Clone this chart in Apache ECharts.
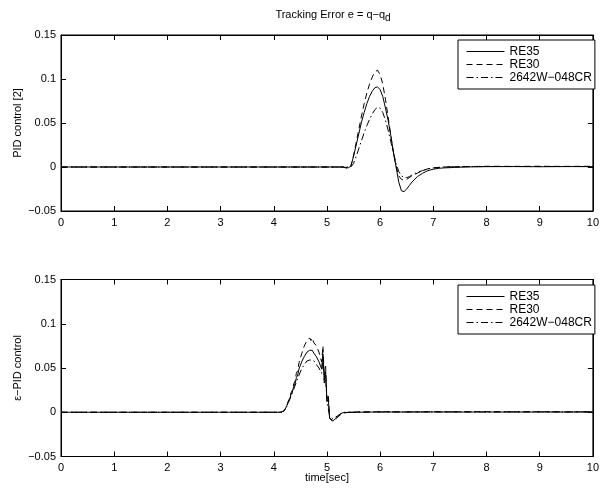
<!DOCTYPE html>
<html>
<head>
<meta charset="utf-8">
<script src="https://cdn.jsdelivr.net/npm/echarts@6/dist/echarts.min.js"></script>
<style>html,body{margin:0;padding:0;background:#fff}#c{width:602px;height:489px}</style>
</head>
<body>
<div id="c"></div>
<script>
// ---------- data ----------
var seriesNames = ['RE35', 'RE30', '2642W\u2212048CR'];
var xTicks = [0,1,2,3,4,5,6,7,8,9,10];
var yTicks = [-0.05, 0, 0.05, 0.1, 0.15];

// Top plot (PID control [2])
var topTime = [0, 2, 4, 5, 5.3, 5.4,
  5.45, 5.5, 5.55, 5.6, 5.65, 5.7, 5.75, 5.8, 5.85, 5.9, 5.95, 6.0,
  6.05, 6.1, 6.15, 6.2, 6.25, 6.3, 6.35, 6.4, 6.45, 6.5, 6.55, 6.6,
  6.7, 6.8, 6.9, 7.0, 7.1, 7.2, 7.4, 7.6, 7.8, 8.0, 8.5, 9.0, 9.5, 10];
var topRE35 = [0, 0, 0, 0, 0, -0.001,
  0.001, 0.012, 0.025, 0.038, 0.051, 0.062, 0.072, 0.080, 0.086, 0.090, 0.091, 0.088,
  0.080, 0.067, 0.053, 0.036, 0.017, 0.000, -0.017, -0.027, -0.028, -0.025, -0.021, -0.017,
  -0.011, -0.007, -0.004, -0.0025, -0.0015, -0.001, -0.0005, 0, 0.0002, 0.0004, 0.0005, 0.0003, 0.0005, 0.0004];
var topRE30 = [0, 0, 0, 0, 0, -0.002,
  0.001, 0.013, 0.028, 0.043, 0.058, 0.072, 0.084, 0.094, 0.102, 0.108, 0.110, 0.105,
  0.094, 0.077, 0.057, 0.036, 0.016, 0.001, -0.010, -0.014, -0.015, -0.014, -0.012, -0.010,
  -0.007, -0.004, -0.002, -0.001, -0.0005, 0, 0.0003, 0.0005, 0.0006, 0.0008, 0.0007, 0.0008, 0.0007, 0.0008];
var top2642 = [0, 0, 0, 0, 0, 0,
  0, 0.004, 0.012, 0.021, 0.030, 0.039, 0.047, 0.054, 0.060, 0.065, 0.068, 0.067,
  0.062, 0.053, 0.042, 0.029, 0.016, 0.004, -0.005, -0.010, -0.012, -0.012, -0.011, -0.009,
  -0.006, -0.004, -0.002, -0.001, -0.0005, 0, 0.0003, 0.0004, 0.0005, 0.0006, 0.0005, 0.0006, 0.0005, 0.0006];

// Bottom plot (epsilon-PID control)
var botTime = [0, 2, 4,
  4.1, 4.125, 4.15, 4.175, 4.2, 4.225, 4.25, 4.275, 4.3, 4.325, 4.35, 4.375, 4.4, 4.425, 4.45, 4.475,
  4.5, 4.525, 4.55, 4.575, 4.6, 4.625, 4.65, 4.675, 4.7, 4.725, 4.75, 4.775, 4.8, 4.825, 4.85, 4.875,
  4.9, 4.925, 4.95, 4.975, 5.0, 5.025, 5.05, 5.075, 5.1, 5.125, 5.15, 5.175, 5.2, 5.225, 5.25, 5.275, 5.3,
  5.4, 5.6, 5.8, 6.0, 6.5, 7.0, 7.5, 8.0, 8.5, 9.0, 9.5, 10];
var botRE35 = [0, 0, 0,
  0, 0, 0.0003, 0.001, 0.002, 0.005, 0.008, 0.012, 0.015, 0.020, 0.023, 0.029, 0.032, 0.039, 0.042, 0.049,
  0.051, 0.057, 0.058, 0.063, 0.064, 0.068, 0.067, 0.070, 0.068, 0.070, 0.067, 0.068, 0.063, 0.064, 0.057, 0.058,
  0.049, 0.066, 0.036, 0.046, 0.012, 0.015, -0.007, -0.005, -0.010, -0.009, -0.008, -0.007, -0.005, -0.004, -0.002, -0.001, -0.0005,
  -0.0003, 0, 0.0002, 0.0003, 0.0002, 0.0003, 0.0002, 0.0003, 0.0002, 0.0003, 0.0002, 0.0003];
var botRE30 = [0, 0, 0,
  0, 0, 0.0003, 0.001, 0.002, 0.005, 0.008, 0.013, 0.016, 0.022, 0.025, 0.032, 0.035, 0.044, 0.047, 0.056,
  0.058, 0.066, 0.067, 0.075, 0.075, 0.081, 0.079, 0.084, 0.081, 0.084, 0.079, 0.081, 0.075, 0.076, 0.068, 0.068,
  0.057, 0.075, 0.040, 0.052, 0.015, 0.020, -0.006, -0.004, -0.009, -0.011, -0.009, -0.009, -0.006, -0.005, -0.003, -0.002, -0.001,
  0, 0.0005, 0.0003, 0.0006, 0.0004, 0.0006, 0.0005, 0.0007, 0.0005, 0.0006, 0.0004, 0.0006];
var bot2642 = [0, 0, 0,
  0, 0, 0.0003, 0.001, 0.002, 0.004, 0.007, 0.011, 0.013, 0.018, 0.020, 0.026, 0.028, 0.034, 0.036, 0.042,
  0.044, 0.049, 0.050, 0.054, 0.055, 0.058, 0.057, 0.059, 0.058, 0.059, 0.057, 0.057, 0.054, 0.054, 0.050, 0.049,
  0.044, 0.060, 0.033, 0.040, 0.012, 0.013, -0.004, -0.003, -0.007, -0.007, -0.006, -0.005, -0.004, -0.003, -0.002, -0.001, 0,
  0, 0.0002, 0.0004, 0.0003, 0.0005, 0.0004, 0.0005, 0.0003, 0.0005, 0.0004, 0.0005, 0.0004];

// ---------- chart ----------
var FONT = '"Liberation Sans", Arial, Helvetica, sans-serif';
function zip(t, v) { return t.map(function (x, i) { return [x, v[i]]; }); }
function yFmt(v) {
  var s = String(Math.round(v * 100) / 100);
  return s.replace('-', '\u2212');
}
var dashTypes = ['solid', [6, 4], [7, 3, 1.5, 3]];

function xAx(gi, pos, showLabels, name) {
  return {
    type: 'value', gridIndex: gi, position: pos, min: 0, max: 10, interval: 1,
    axisLine: { show: true, onZero: false, lineStyle: { color: '#000', width: 1 } },
    axisTick: { show: true, inside: true, length: 5, lineStyle: { color: '#000' } },
    axisLabel: { show: showLabels, color: '#000', fontFamily: FONT, fontSize: 11, margin: 6 },
    splitLine: { show: false },
    name: name || '', nameLocation: 'middle', nameGap: 16, nameMoveOverlap: false,
    nameTextStyle: { color: '#000', fontFamily: FONT, fontSize: 11 }
  };
}
function yAx(gi, pos, showLabels, name) {
  return {
    type: 'value', gridIndex: gi, position: pos, min: -0.05, max: 0.15, interval: 0.05,
    axisLine: { show: true, onZero: false, lineStyle: { color: '#000', width: 1 } },
    axisTick: { show: true, inside: true, length: 5, lineStyle: { color: '#000' } },
    axisLabel: { show: showLabels, color: '#000', fontFamily: FONT, fontSize: 11, margin: 5, formatter: yFmt },
    splitLine: { show: false },
    name: name || '', nameLocation: 'middle', nameGap: 38, nameRotate: 90, nameMoveOverlap: false,
    nameTextStyle: { color: '#000', fontFamily: FONT, fontSize: 11 }
  };
}
function mkSeries(name, data, k, xi, yi) {
  return {
    name: name, type: 'line', xAxisIndex: xi, yAxisIndex: yi, data: data,
    showSymbol: false, symbol: 'none', animation: false,
    lineStyle: { color: '#000', width: 1, type: dashTypes[k] },
    itemStyle: { color: '#000' }
  };
}
function mkLegend(top) {
  return {
    data: seriesNames, orient: 'vertical', left: 458, top: top,
    itemWidth: 38, itemHeight: 9, itemGap: 0, padding: [5, 3, 5, 8],
    backgroundColor: '#fff', borderColor: '#000', borderWidth: 1,
    textStyle: { color: '#000', fontFamily: FONT, fontSize: 12, lineHeight: 13 },
    itemStyle: { opacity: 0 },
    lineStyle: { width: 1 },
    selectedMode: false
  };
}

var chart = echarts.init(document.getElementById('c'), null, { renderer: 'canvas' });
var topData = [topRE35, topRE30, top2642];
var botData = [botRE35, botRE30, bot2642];
var series = [];
seriesNames.forEach(function (n, k) { series.push(mkSeries(n, zip(topTime, topData[k]), k, 0, 0)); });
seriesNames.forEach(function (n, k) { series.push(mkSeries(n, zip(botTime, botData[k]), k, 2, 2)); });

chart.setOption({
  animation: false,
  backgroundColor: '#fff',
  title: {
    text: 'Tracking Error e = q\u2212q{sub|d}', left: 328, top: 1, textAlign: 'center',
    textStyle: { color: '#000', fontFamily: FONT, fontSize: 11, fontWeight: 'normal',
      rich: { sub: { fontSize: 10, fontFamily: FONT, color: '#000', padding: [7, 0, 0, 0] } } }
  },
  grid: [
    { left: 61, top: 35, width: 534, height: 176, show: true, borderColor: '#000', borderWidth: 1, backgroundColor: '#fff' },
    { left: 61, top: 279.5, width: 534, height: 177, show: true, borderColor: '#000', borderWidth: 1, backgroundColor: '#fff' }
  ],
  xAxis: [
    xAx(0, 'bottom', true), xAx(0, 'top', false),
    xAx(1, 'bottom', true, 'time[sec]'), xAx(1, 'top', false)
  ],
  yAxis: [
    yAx(0, 'left', true, 'PID control [2]'), yAx(0, 'right', false),
    yAx(1, 'left', true, '\u03b5\u2212PID control'), yAx(1, 'right', false)
  ],
  legend: [mkLegend(40), mkLegend(285)],
  series: series
});
</script>
</body>
</html>
